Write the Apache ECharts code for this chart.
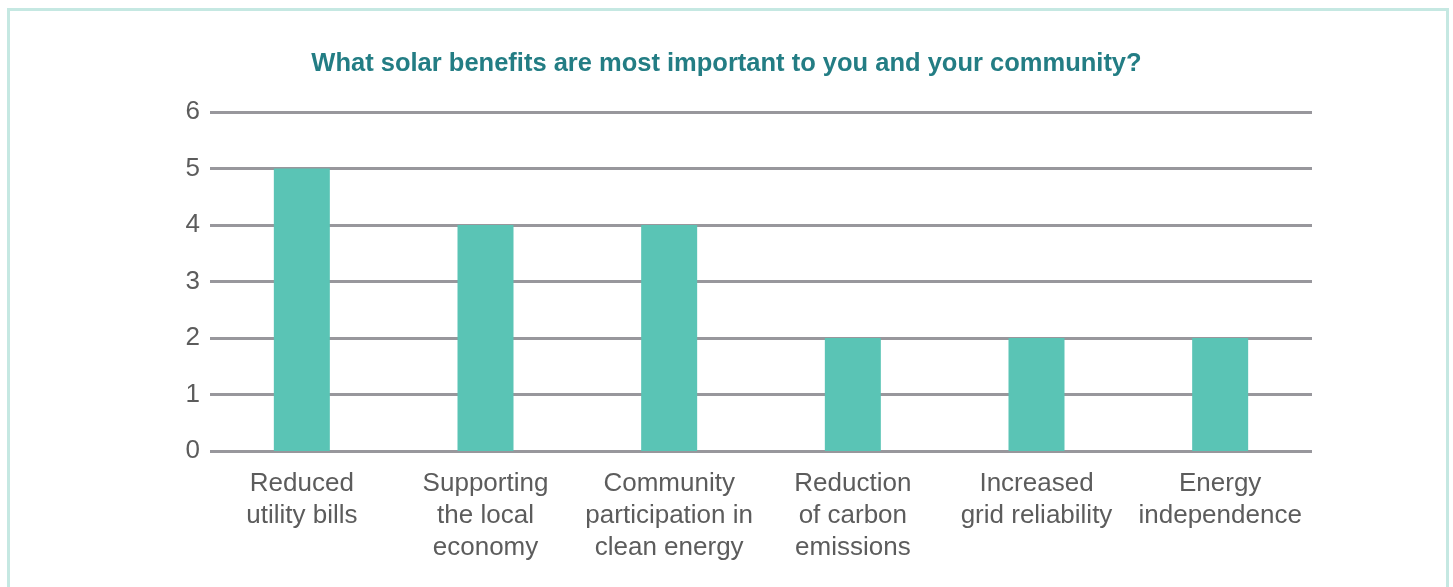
<!DOCTYPE html>
<html>
<head>
<meta charset="utf-8">
<script src="https://cdn.jsdelivr.net/npm/echarts@6/dist/echarts.min.js"></script>
<style>
  html, body { margin: 0; padding: 0; background: #ffffff; }
  #chart { width: 1453px; height: 587px; }
</style>
</head>
<body>
<div id="chart"></div>
<script>
// Survey answers: which solar benefits matter most
const categories = [
  'Reduced\nutility bills',
  'Supporting\nthe local\neconomy',
  'Community\nparticipation in\nclean energy',
  'Reduction\nof carbon\nemissions',
  'Increased\ngrid reliability',
  'Energy\nindependence'
];
const responses = [5, 4, 4, 2, 2, 2];
const titleText = 'What solar benefits are most important to you and your community?';

const FONT = '"Liberation Sans", Arial, sans-serif';
const chart = echarts.init(document.getElementById('chart'), null, { renderer: 'canvas' });

chart.setOption({
  backgroundColor: '#ffffff',
  animation: false,
  title: {
    text: titleText,
    left: 'center',
    top: 46,
    textStyle: { color: '#237D84', fontSize: 25.5, fontWeight: 'bold', fontFamily: FONT }
  },
  graphic: [{
    type: 'rect',
    shape: { x: 8.5, y: 9.5, width: 1439, height: 600 },
    style: { fill: 'none', stroke: '#C5E8E2', lineWidth: 3 },
    z: -1
  }],
  grid: { left: 210, right: 141, top: 112, bottom: 136, containLabel: false },
  xAxis: {
    type: 'category',
    data: categories,
    axisLine: { show: false },
    axisTick: { show: false },
    axisLabel: {
      interval: 0,
      margin: 17,
      color: '#5c5c5c',
      fontSize: 26,
      lineHeight: 32,
      fontFamily: FONT
    }
  },
  yAxis: {
    type: 'value',
    min: 0,
    max: 6,
    interval: 1,
    axisLine: { show: false },
    axisTick: { show: false },
    axisLabel: { margin: 10, color: '#5c5c5c', fontSize: 26, fontFamily: FONT },
    splitLine: { show: true, lineStyle: { color: '#98979C', width: 3 } }
  },
  series: [{
    type: 'bar',
    data: responses,
    barWidth: 56,
    itemStyle: { color: '#5AC4B5' },
    z: 3
  }]
});
</script>
</body>
</html>
